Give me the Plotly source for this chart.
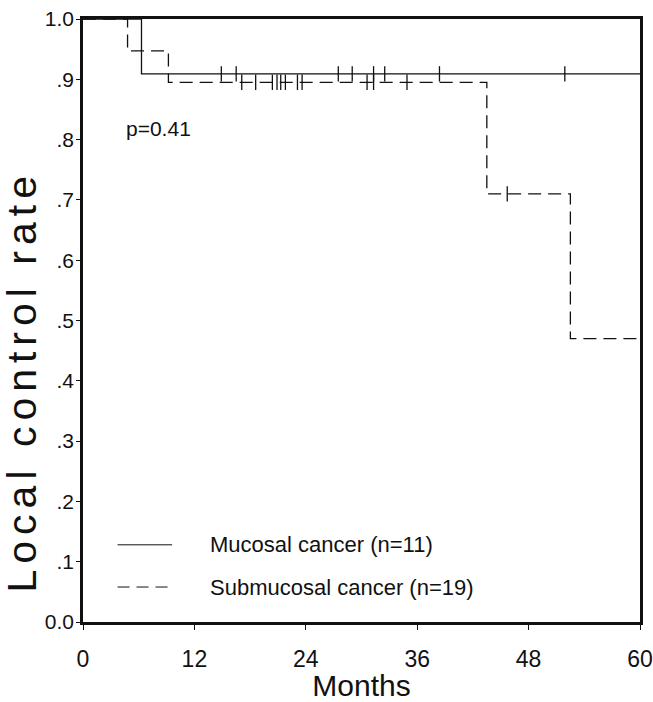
import plotly.graph_objects as go

# Kaplan-Meier step data
muc_time = [0, 6.3, 60]
muc_surv = [1.0, 0.909, 0.909]
muc_cens_time = [14.9, 16.5, 27.5, 29.0, 31.3, 32.5, 38.4, 51.9]
muc_cens_surv = [0.909] * len(muc_cens_time)

sub_time = [0, 4.8, 9.2, 43.5, 52.5, 60]
sub_surv = [1.0, 0.947, 0.895, 0.71, 0.47, 0.47]
sub_cens_time = [17.1, 18.6, 20.4, 20.9, 21.3, 21.8, 23.1, 23.6, 30.6, 31.3, 34.9]
sub_cens_surv = [0.895] * len(sub_cens_time)
sub_cens2_time = [45.7]
sub_cens2_surv = [0.71]

x_ticks = [0, 12, 24, 36, 48, 60]
y_ticks = [0.0, 0.1, 0.2, 0.3, 0.4, 0.5, 0.6, 0.7, 0.8, 0.9, 1.0]
y_ticktext = ["0.0", ".1", ".2", ".3", ".4", ".5", ".6", ".7", ".8", ".9", "1.0"]

legend_labels = ["Mucosal cancer (n=11)", "Submucosal cancer (n=19)"]

FONT = "Liberation Sans, Arial, sans-serif"
ink = "#111111"

fig = go.Figure()
fig.add_trace(go.Scatter(x=muc_time, y=muc_surv, mode="lines", line_shape="hv",
                         line=dict(color=ink, width=1.3), showlegend=False))
fig.add_trace(go.Scatter(x=sub_time, y=sub_surv, mode="lines", line_shape="hv",
                         line=dict(color=ink, width=1.3, dash="13px,7px"), showlegend=False))
for xs, ys in [(muc_cens_time, muc_cens_surv), (sub_cens_time, sub_cens_surv),
               (sub_cens2_time, sub_cens2_surv)]:
    fig.add_trace(go.Scatter(x=xs, y=ys, mode="markers",
                             marker=dict(symbol="line-ns", size=11,
                                         line=dict(color=ink, width=1.3)),
                             showlegend=False))

# p-value text
fig.add_annotation(x=4.4, y=0.818, xref="x", yref="y", text="p=0.41", showarrow=False,
                   xanchor="left", font=dict(family=FONT, size=21, color=ink))

# custom legend
leg_y = [0.128, 0.058]
leg_dash = ["solid", "12px,7px"]
for ly, lab, d in zip(leg_y, legend_labels, leg_dash):
    fig.add_shape(type="line", xref="paper", yref="paper", x0=0.062, x1=0.16, y0=ly, y1=ly,
                  line=dict(color=ink, width=1, dash=d))
    fig.add_annotation(xref="paper", yref="paper", x=0.225, y=ly, text=lab, showarrow=False,
                       xanchor="left", yanchor="middle",
                       font=dict(family=FONT, size=22, color=ink))

# y-axis title
fig.add_annotation(xref="paper", yref="paper", x=-0.11, y=0.40,
                   text='<span style="letter-spacing:6px">Local control rate</span>',
                   textangle=-90, showarrow=False, xanchor="center", yanchor="middle",
                   font=dict(family=FONT, size=41, color=ink))

fig.update_xaxes(range=[0, 60], tickvals=x_ticks, ticks="outside", ticklen=5,
                 tickcolor=ink, showline=True, linecolor=ink, linewidth=2.5, mirror=True,
                 showgrid=False, zeroline=False, automargin=False, ticklabelstandoff=10,
                 tickfont=dict(family=FONT, size=23, color=ink),
                 title=dict(text="Months", font=dict(family=FONT, size=30, color=ink),
                            standoff=0))
fig.update_yaxes(range=[0, 1.0], tickvals=y_ticks, ticktext=y_ticktext, ticks="outside",
                 ticklen=4, tickcolor=ink, showline=True, linecolor=ink, linewidth=2.5,
                 mirror=True, showgrid=False, zeroline=False, automargin=False,
                 ticklabelstandoff=-2,
                 tickfont=dict(family=FONT, size=21, color=ink))

fig.update_layout(width=653, height=702, margin=dict(l=83, r=13, t=19, b=80),
                  plot_bgcolor="white", paper_bgcolor="white", showlegend=False)

fig.write_html("out.html")
